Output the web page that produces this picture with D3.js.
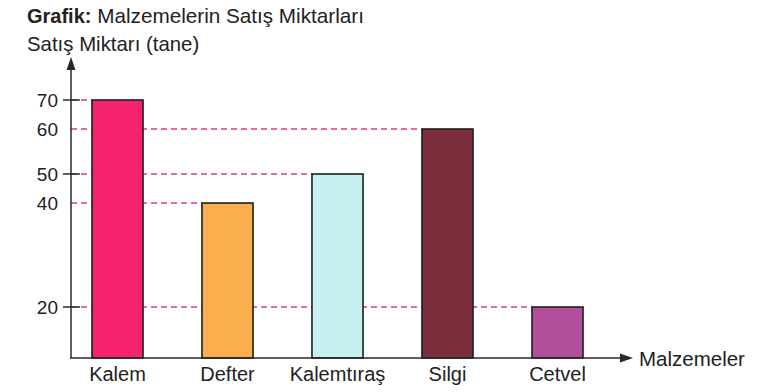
<!DOCTYPE html>
<html>
<head>
  <meta charset="utf-8">
  <title>Malzemelerin Satış Miktarları</title>
  <script src="https://d3js.org/d3.v7.min.js"></script>
  <style>
    body { margin: 0; background: #fff; font-family: Arial, "Liberation Sans", sans-serif; }
    text { fill: #222; }
    .guide { stroke: #d63b8c; stroke-width: 1.6; stroke-dasharray: 6 4; fill: none; }
    .bar { stroke: #1e1e1e; stroke-width: 1.6; }
  </style>
</head>
<body>
  <svg id="chart" width="766" height="392"></svg>

  <script>
    const categories = ["Kalem", "Defter", "Kalemtıraş", "Silgi", "Cetvel"];
    const values = [70, 40, 50, 60, 20];
    const colors = ["#f5236f", "#fbae4d", "#c6eff2", "#7c2d3b", "#b14f9d"];
    const tickLabels = [70, 60, 50, 40, 20];
    const tickMarks = [70, 50, 20];

    const svg = d3.select("#chart");

    // the printed axis is not evenly spaced, so use a piecewise scale
    const y = d3.scaleLinear()
      .domain([0, 20, 40, 50, 60, 70])
      .range([358, 307, 203, 174, 129, 100]);

    const x = d3.scaleBand()
      .domain(categories)
      .range([62.5, 612.5])
      .paddingInner(0.536)
      .paddingOuter(0.268);

    const axisX = 71;

    // title
    const title = svg.append("text").attr("x", 27).attr("y", 23).style("font-size", "20px");
    title.append("tspan").style("font-weight", "bold").text("Grafik:");
    title.append("tspan").style("font-size", "20.7px").text(" Malzemelerin Satış Miktarları");

    svg.append("text").attr("x", 27).attr("y", 51).style("font-size", "20.4px")
      .text("Satış Miktarı (tane)");

    // dashed guide lines
    svg.append("g").selectAll("line")
      .data(categories)
      .join("line")
      .attr("class", "guide")
      .attr("x1", axisX)
      .attr("x2", d => x(d))
      .attr("y1", (d, i) => y(values[i]))
      .attr("y2", (d, i) => y(values[i]));

    // bars
    svg.append("g").selectAll("rect")
      .data(categories)
      .join("rect")
      .attr("class", "bar")
      .attr("x", d => x(d))
      .attr("width", x.bandwidth())
      .attr("y", (d, i) => y(values[i]))
      .attr("height", (d, i) => y(0) - y(values[i]))
      .attr("fill", (d, i) => colors[i]);

    // y axis labels
    const yAxis = svg.append("g")
      .attr("transform", `translate(${axisX},0)`)
      .call(d3.axisLeft(y).tickValues(tickLabels).tickSize(0).tickPadding(13));
    yAxis.select(".domain").remove();
    yAxis.selectAll("text").style("font-size", "19px").attr("fill", "#222").style("font-family", "Arial, sans-serif");

    // tick marks (only some values have them)
    svg.append("g").selectAll("line")
      .data(tickMarks)
      .join("line")
      .attr("x1", axisX - 8).attr("x2", axisX + 9)
      .attr("y1", d => y(d)).attr("y2", d => y(d))
      .attr("stroke", "#2a2a2a").attr("stroke-width", 1.5);

    // axes lines with arrows
    svg.append("line")
      .attr("x1", axisX).attr("x2", axisX)
      .attr("y1", y(0) + 0.5).attr("y2", 68)
      .attr("stroke", "#2a2a2a").attr("stroke-width", 1.5);
    svg.append("path")
      .attr("d", `M${axisX},57 L${axisX - 4.5},70 L${axisX + 4.5},70 Z`)
      .attr("fill", "#2a2a2a");

    svg.append("line")
      .attr("x1", axisX - 0.7).attr("x2", 622)
      .attr("y1", y(0)).attr("y2", y(0))
      .attr("stroke", "#2a2a2a").attr("stroke-width", 1.5);
    svg.append("path")
      .attr("d", `M633,${y(0)} L620,${y(0) - 4.5} L620,${y(0) + 4.5} Z`)
      .attr("fill", "#2a2a2a");

    svg.append("text").attr("x", 639).attr("y", 366).style("font-size", "20.5px").text("Malzemeler");

    // category labels
    svg.append("g").selectAll("text")
      .data(categories)
      .join("text")
      .attr("x", d => x(d) + x.bandwidth() / 2)
      .attr("y", 381)
      .attr("text-anchor", "middle")
      .style("font-size", "20px")
      .text(d => d);
  </script>
</body>
</html>
